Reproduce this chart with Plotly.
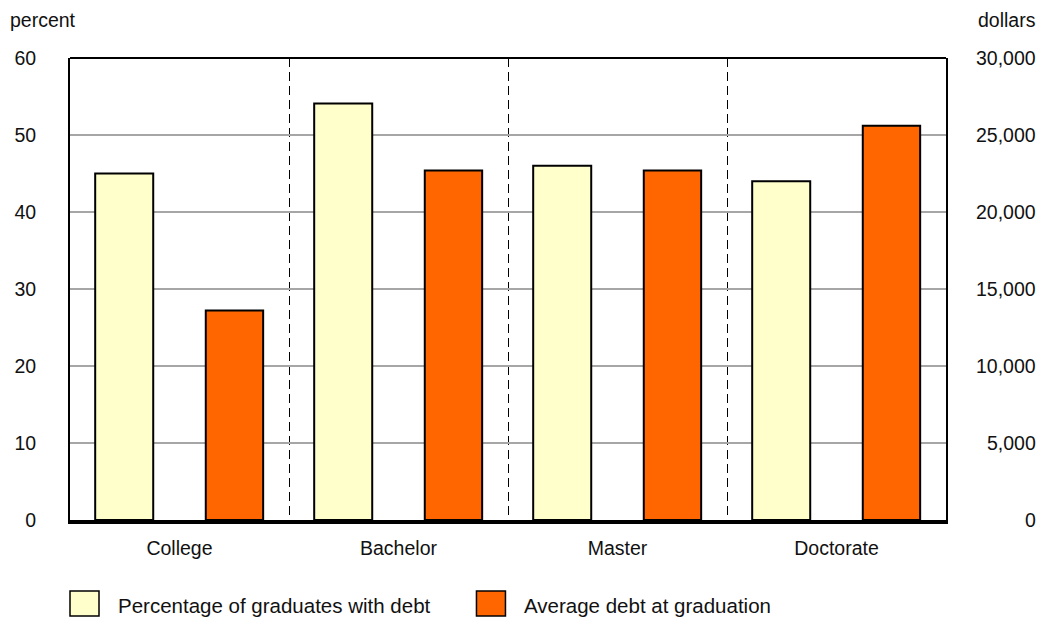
import plotly.graph_objects as go

categories = ["College", "Bachelor", "Master", "Doctorate"]
pct_with_debt = [45.0, 54.1, 46.0, 44.0]
avg_debt = [13600, 22700, 22700, 25600]
left_ticks = [0, 10, 20, 30, 40, 50, 60]
right_ticks = [0, 5000, 10000, 15000, 20000, 25000, 30000]
series_names = ["Percentage of graduates with debt", "Average debt at graduation"]
colors = ["#FFFFCC", "#FF6600"]

FONT = "Liberation Sans, Arial, sans-serif"
FS = 19.5

fig = go.Figure()
fig.add_trace(go.Bar(
    x=categories, y=pct_with_debt, name=series_names[0], yaxis="y",
    marker=dict(color=colors[0], line=dict(color="black", width=2)),
    width=0.265, offset=-0.385, showlegend=False,
))
fig.add_trace(go.Bar(
    x=categories, y=avg_debt, name=series_names[1], yaxis="y2",
    marker=dict(color=colors[1], line=dict(color="black", width=2)),
    width=0.262, offset=0.12, showlegend=False,
))

fig.update_layout(
    width=1042, height=618,
    margin=dict(l=70, r=96, t=58, b=98),
    paper_bgcolor="white", plot_bgcolor="white",
    font=dict(family=FONT, size=FS, color="#111111"),
    barmode="overlay",
    xaxis=dict(
        type="category", range=[-0.5, 3.5],
        showgrid=True, gridcolor="black", gridwidth=1.4, griddash="9px,5px",
        tickson="boundaries", ticks="", ticklen=0,
        showline=True, linecolor="black", linewidth=3.5,
        ticklabelstandoff=8,
        fixedrange=True,
    ),
    yaxis=dict(
        range=[0, 60], tickvals=left_ticks,
        showgrid=True, gridcolor="#a6a6a6", gridwidth=1.6,
        zeroline=False, showline=True, linecolor="black", linewidth=2,
        ticks="", ticklabelstandoff=28,
    ),
    yaxis2=dict(
        range=[0, 30000], tickvals=right_ticks, overlaying="y", side="right",
        showgrid=False, zeroline=False, showline=True, linecolor="black", linewidth=2,
        showticklabels=False, ticks="",
    ),
)

# top border
fig.add_shape(type="line", xref="paper", yref="paper", x0=0, x1=1, y0=1, y1=1,
              line=dict(color="black", width=2))

# right axis labels, right-aligned
for v in right_ticks:
    fig.add_annotation(x=1, xref="paper", y=v, yref="y2", text=f"{v:,}",
                       showarrow=False, xanchor="right", yanchor="middle", xshift=92,
                       font=dict(family=FONT, size=FS, color="#111111"))

# axis titles
fig.add_annotation(x=0, xref="paper", y=1, yref="paper", text="percent", showarrow=False,
                   xanchor="left", yanchor="middle", xshift=-62, yshift=38,
                   font=dict(family=FONT, size=FS, color="#111111"))
fig.add_annotation(x=1, xref="paper", y=1, yref="paper", text="dollars", showarrow=False,
                   xanchor="right", yanchor="middle", xshift=92, yshift=38,
                   font=dict(family=FONT, size=FS, color="#111111"))

# custom legend (large swatches)
legend_x = [0.0, 0.464]
for name, col, lx in zip(series_names, colors, legend_x):
    fig.add_shape(type="rect", xref="paper", yref="paper",
                  x0=lx, x1=lx + 29 / 876, y0=-96 / 462, y1=-71 / 462,
                  fillcolor=col, line=dict(color="black", width=1.5))
    fig.add_annotation(x=lx + 46 / 876, xref="paper", y=-85 / 462, yref="paper", text=name,
                       showarrow=False, xanchor="left", yanchor="middle",
                       font=dict(family=FONT, size=20.5, color="#111111"))

fig.write_html("out.html")
